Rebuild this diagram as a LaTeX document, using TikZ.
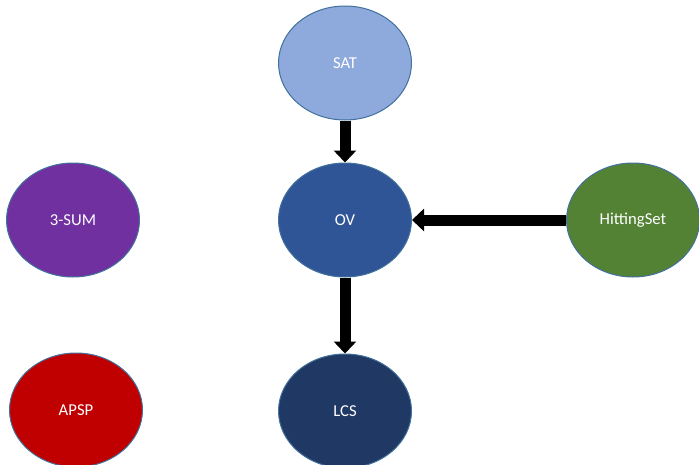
\documentclass[tikz,border=0pt]{standalone}
\usepackage{fontspec}
\setmainfont{Carlito}
\definecolor{satblue}{RGB}{142,169,219}
\definecolor{ovblue}{RGB}{47,85,151}
\definecolor{lcsblue}{RGB}{32,56,100}
\definecolor{sumpurple}{RGB}{112,48,160}
\definecolor{apspred}{RGB}{192,0,0}
\definecolor{hitgreen}{RGB}{84,130,53}
\definecolor{edgeblue}{RGB}{65,113,156}
\usetikzlibrary{arrows.meta,shapes.geometric}

\begin{document}
\begin{tikzpicture}[x=0.75pt, y=-0.75pt,
        problem/.style={ellipse, minimum width=99.75pt, minimum height=85.5pt, inner sep=0pt,
          draw=edgeblue, line width=0.75pt, text=white, font=\fontsize{12.5}{15}\selectfont},
        arrow/.style={-{Triangle[length=9pt, width=16.5pt]}, line width=8.25pt, black}
      ]
        \useasboundingbox (0,0) rectangle (699,464);
        \node[problem, fill=satblue]   (sat)      at (345,63)  {SAT};
        \node[problem, fill=ovblue]    (ov)       at (345,220) {OV};
        \node[problem, fill=lcsblue]   (lcs)      at (345,411) {LCS};
        \node[problem, fill=sumpurple] (threesum) at (73,220)  {3-SUM};
        \node[problem, fill=apspred]   (apsp)     at (76,410)  {APSP};
        \node[problem, fill=hitgreen]  (hit)      at (633,220) {HittingSet};

        \draw[arrow] (sat.south) -- (ov.north);
        \draw[arrow] (hit.west)  -- (ov.east);
        \draw[arrow] (ov.south)  -- (lcs.north);
      \end{tikzpicture}
\end{document}
